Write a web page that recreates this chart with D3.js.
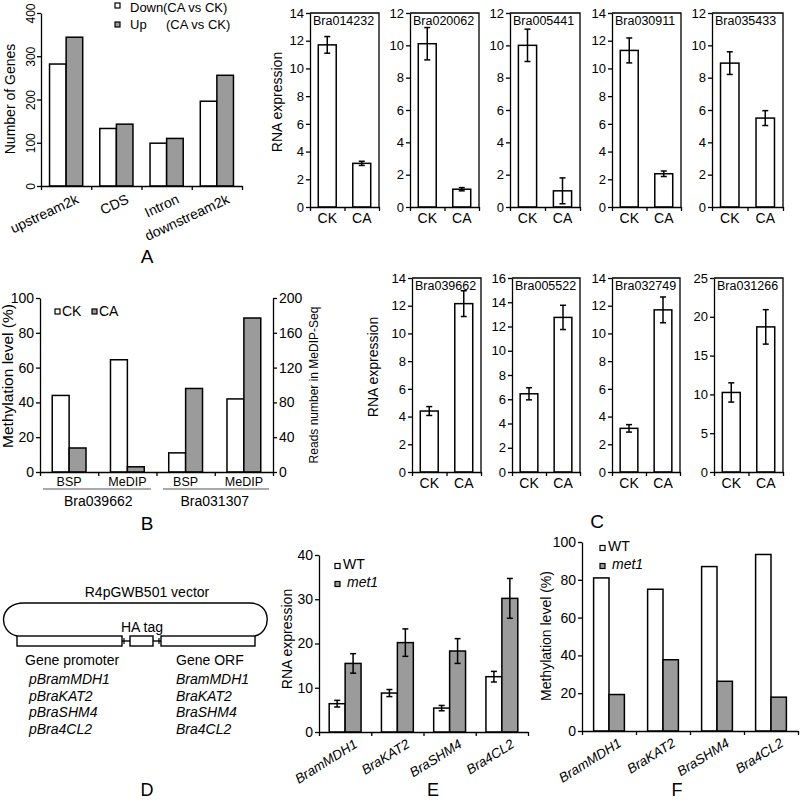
<!DOCTYPE html>
<html><head><meta charset="utf-8">
<script src="https://cdn.jsdelivr.net/npm/d3@7"></script>
<style>
body{margin:0;background:#fff;}
svg{display:block;font-family:"Liberation Sans",Arial,sans-serif;}
</style></head><body>
<svg id="c" width="800" height="802"></svg>
<script>
// ---------- DATA ----------
// Panel A
const regionCats = ["upstream2k", "CDS", "Intron", "downstream2k"];
const downCounts = [282, 133, 99, 196];
const upCounts = [344, 143, 110, 256];
const countTicks = [0, 100, 200, 300, 400];

// Top small multiples (down-regulated)
const downGenes = ["Bra014232", "Bra020062", "Bra005441", "Bra030911", "Bra035433"];
const downCK = [11.7, 10.1, 10.0, 11.3, 8.9];
const downCKErr = [0.6, 1.0, 1.0, 0.9, 0.7];
const downCA = [3.15, 1.1, 1.0, 2.4, 5.5];
const downCAErr = [0.15, 0.1, 0.8, 0.2, 0.46];
const downMax = [14, 12, 12, 14, 12];

// Bottom small multiples (up-regulated)
const upGenes = ["Bra039662", "Bra005522", "Bra032749", "Bra031266"];
const upCK = [4.4, 6.45, 3.15, 10.25];
const upCKErr = [0.32, 0.5, 0.27, 1.24];
const upCA = [12.15, 12.75, 11.7, 18.7];
const upCAErr = [0.93, 1.0, 0.93, 2.22];
const upMax = [14, 16, 14, 25];

const condCats = ["CK", "CA"];

// Panel B
const methCats = ["BSP", "MeDIP", "BSP", "MeDIP"];
const methGenes = ["Bra039662", "Bra031307"];
const methCK = [44, 129, 11, 84];   // BSP: % ; MeDIP: reads
const methCA = [13.8, 6, 48, 177];
const methTicksL = [0, 20, 40, 60, 80, 100];
const methTicksR = [0, 40, 80, 120, 160, 200];

// Panel D
const promoters = ["pBramMDH1", "pBraKAT2", "pBraSHM4", "pBra4CL2"];
const orfs = ["BramMDH1", "BraKAT2", "BraSHM4", "Bra4CL2"];

// Panel E / F
const lineGenes = ["BramMDH1", "BraKAT2", "BraSHM4", "Bra4CL2"];
const wtExpr = [6.4, 8.8, 5.4, 12.5];
const wtExprErr = [0.75, 0.8, 0.6, 1.2];
const metExpr = [15.5, 20.2, 18.3, 30.2];
const metExprErr = [2.2, 3.1, 2.8, 4.5];
const exprTicks = [0, 10, 20, 30, 40];
const wtMeth = [81, 75, 87, 93.4];
const metMeth = [19.3, 37.7, 26.3, 17.9];
const methTicks = [0, 20, 40, 60, 80, 100];

// ---------- DRAW ----------
const GRAY = "#9b9b9b";
const svg = d3.select("#c");

function styleAxis(g, fs) {
  g.attr("font-size", fs).attr("font-family", null);
  g.selectAll("path,line").attr("stroke", "#000").attr("stroke-width", 1.3);
  g.selectAll("text").attr("fill", "#000");
  return g;
}
function label(g, x, y, txt, fs, opts = {}) {
  const t = g.append("text").attr("x", x).attr("y", y).attr("font-size", fs)
    .attr("text-anchor", opts.anchor || "start").text(txt);
  if (opts.rotate) t.attr("transform", `rotate(${opts.rotate},${x},${y})`);
  if (opts.italic) t.attr("font-style", "italic");
  return t;
}
function errBar(g, cx, yTop, yBot, w) {
  g.append("line").attr("x1", cx).attr("x2", cx).attr("y1", yTop).attr("y2", yBot).attr("stroke", "#000").attr("stroke-width", 1.5);
  g.append("line").attr("x1", cx - w).attr("x2", cx + w).attr("y1", yTop).attr("y2", yTop).attr("stroke", "#000").attr("stroke-width", 1.5);
  g.append("line").attr("x1", cx - w).attr("x2", cx + w).attr("y1", yBot).attr("y2", yBot).attr("stroke", "#000").attr("stroke-width", 1.5);
}
function boundaryAxis(g, x0, x1, n, y) {
  return styleAxis(g.append("g").attr("transform", `translate(0,${y})`)
    .call(d3.axisBottom(d3.scaleLinear().domain([0, n]).range([x0, x1])).ticks(n).tickSize(4).tickSizeOuter(0).tickFormat("")), 12);
}

// ===== Panel A =====
{
  const g = svg.append("g");
  const x = d3.scaleBand().domain(regionCats).range([41, 242]).paddingInner(0.34).paddingOuter(0.17);
  const sub = d3.scaleBand().domain(["down", "up"]).range([0, x.bandwidth()]);
  const y = d3.scaleLinear().domain([0, 400]).range([186, 13]);
  g.selectAll("g.grp").data(regionCats).join("g").attr("transform", d => `translate(${x(d)},0)`)
    .selectAll("rect").data((d, i) => [{ k: "down", v: downCounts[i] }, { k: "up", v: upCounts[i] }]).join("rect")
    .attr("x", d => sub(d.k)).attr("y", d => y(d.v)).attr("width", sub.bandwidth()).attr("height", d => y(0) - y(d.v))
    .attr("fill", d => d.k === "down" ? "#fff" : GRAY).attr("stroke", "#000").attr("stroke-width", 1.5);
  const ay = styleAxis(g.append("g").attr("transform", "translate(41,0)")
    .call(d3.axisLeft(y).tickValues(countTicks).tickSize(4).tickSizeOuter(0)), 12);
  ay.selectAll(".tick text").attr("transform", "rotate(-90)").attr("text-anchor", "middle").attr("x", 0).attr("dy", 0).attr("y", -6);
  boundaryAxis(g, 41, 242, 4, 186);
  g.selectAll("text.xl").data(regionCats).join("text").attr("class", "xl")
    .attr("transform", d => `translate(${x(d) + x.bandwidth() / 2 + 9},${193}) rotate(-25)`)
    .attr("text-anchor", "end").attr("dy", "0.75em").attr("font-size", 14).text(d => d);
  label(g, 15, 99, "Number of Genes", 14, { anchor: "middle", rotate: -90 });
  // legend
  const leg = [["Down", 3, 12, 163], ["Up", 22, 29, 166]];
  leg.forEach((l, i) => {
    g.append("rect").attr("x", 115).attr("y", l[1]).attr("width", 5).attr("height", 5)
      .attr("fill", i ? GRAY : "#fff").attr("stroke", "#000").attr("stroke-width", 1.2);
    label(g, 130, l[2], l[0], 13);
    label(g, l[3], l[2], "(CA vs CK)", 13);
  });
  label(g, 147, 263, "A", 19, { anchor: "middle" });
}

// ===== Small multiples =====
function smallPanel(x0, x1, yTop, y0, max, gene, ck, ckE, ca, caE) {
  const g = svg.append("g");
  const step = max > 20 ? 5 : 2;
  const x = d3.scaleBand().domain(condCats).range([x0, x1]).paddingInner(0.48).paddingOuter(0.24);
  const y = d3.scaleLinear().domain([0, max]).range([y0, yTop]);
  const vals = [{ k: "CK", v: ck, e: ckE }, { k: "CA", v: ca, e: caE }];
  g.selectAll("rect.bar").data(vals).join("rect").attr("class", "bar")
    .attr("x", d => x(d.k)).attr("y", d => y(d.v)).attr("width", x.bandwidth()).attr("height", d => y(0) - y(d.v))
    .attr("fill", "#fff").attr("stroke", "#000").attr("stroke-width", 1.5);
  vals.forEach(d => errBar(g, x(d.k) + x.bandwidth() / 2, y(d.v + d.e), y(d.v - d.e), 3));
  g.append("path").attr("d", `M${x0},${yTop}H${x1}V${y0}`).attr("fill", "none").attr("stroke", "#000").attr("stroke-width", 1.3);
  styleAxis(g.append("g").attr("transform", `translate(${x0},0)`)
    .call(d3.axisLeft(y).tickValues(d3.range(0, max + 0.01, step)).tickSize(4).tickSizeOuter(0).tickPadding(2)), 13);
  boundaryAxis(g, x0, x1, 2, y0);
  condCats.forEach(c => label(g, x(c) + x.bandwidth() / 2, y0 + 16, c, 14, { anchor: "middle" }));
  label(g, x0 + 3, yTop + 12, gene, 12.5);
}
const topX0 = [310, 410, 510, 612, 712];
const topX1 = [379, 479, 580, 681, 783];
downGenes.forEach((gname, i) => smallPanel(topX0[i], topX1[i], 13, 207, downMax[i], gname, downCK[i], downCKErr[i], downCA[i], downCAErr[i]));
const botX0 = [412, 512, 612, 714];
const botX1 = [481, 580, 680, 783];
upGenes.forEach((gname, i) => smallPanel(botX0[i], botX1[i], 278, 472, upMax[i], gname, upCK[i], upCKErr[i], upCA[i], upCAErr[i]));
label(svg, 282, 102, "RNA expression", 14, { anchor: "middle", rotate: -90 });
label(svg, 378, 367, "RNA expression", 14, { anchor: "middle", rotate: -90 });
label(svg, 597, 528, "C", 19, { anchor: "middle" });

// ===== Panel B =====
{
  const g = svg.append("g");
  const idx = d3.range(methCats.length);
  const x = d3.scaleBand().domain(idx).range([40, 273]).paddingInner(0.42).paddingOuter(0.21);
  const sub = d3.scaleBand().domain(["CK", "CA"]).range([0, x.bandwidth()]);
  const yL = d3.scaleLinear().domain([0, 100]).range([472, 298]);
  const yR = d3.scaleLinear().domain([0, 200]).range([472, 298]);
  const ys = i => methCats[i] === "BSP" ? yL : yR;
  g.selectAll("g.grp").data(idx).join("g").attr("transform", d => `translate(${x(d)},0)`)
    .selectAll("rect").data(i => [{ k: "CK", v: methCK[i], i }, { k: "CA", v: methCA[i], i }]).join("rect")
    .attr("x", d => sub(d.k)).attr("y", d => ys(d.i)(d.v)).attr("width", sub.bandwidth()).attr("height", d => ys(d.i)(0) - ys(d.i)(d.v))
    .attr("fill", d => d.k === "CK" ? "#fff" : GRAY).attr("stroke", "#000").attr("stroke-width", 1.5);
  styleAxis(g.append("g").attr("transform", "translate(40,0)").call(d3.axisLeft(yL).tickValues(methTicksL).tickSize(4).tickSizeOuter(0).tickPadding(2)), 14);
  styleAxis(g.append("g").attr("transform", "translate(273,0)").call(d3.axisRight(yR).tickValues(methTicksR).tickSize(4).tickSizeOuter(0).tickPadding(2)), 14);
  boundaryAxis(g, 40, 273, 4, 472);
  idx.forEach(i => label(g, x(i) + x.bandwidth() / 2, 486, methCats[i], 12.5, { anchor: "middle" }));
  [[43, 151], [163, 269]].forEach(r => g.append("line").attr("x1", r[0]).attr("x2", r[1]).attr("y1", 489).attr("y2", 489).attr("stroke", "#555").attr("stroke-width", 1.2));
  methGenes.forEach((gn, j) => label(g, (x(2 * j) + x(2 * j + 1) + x.bandwidth()) / 2, 506, gn, 14, { anchor: "middle" }));
  label(g, 13, 376, "Methylation level (%)", 15.5, { anchor: "middle", rotate: -90 });
  label(g, 318, 385, "Reads number in MeDIP-Seq", 12, { anchor: "middle", rotate: -90 });
  [["CK", 55, "#fff"], ["CA", 92, GRAY]].forEach(l => {
    g.append("rect").attr("x", l[1]).attr("y", 309).attr("width", 5).attr("height", 5).attr("fill", l[2]).attr("stroke", "#000").attr("stroke-width", 1.2);
    label(g, l[1] + 7, 316, l[0], 14);
  });
  label(g, 147, 530, "B", 19, { anchor: "middle" });
}

// ===== Panel D =====
{
  const g = svg.append("g");
  const p = d3.path();
  p.moveTo(17, 636);
  p.bezierCurveTo(-2, 632, -2, 603, 24, 603);
  p.lineTo(250, 603);
  p.bezierCurveTo(272, 603, 272, 632, 255, 636);
  g.append("path").attr("d", p.toString()).attr("fill", "none").attr("stroke", "#000").attr("stroke-width", 1.4);
  [[17, 122], [130, 153], [161, 255]].forEach(b => g.append("rect").attr("x", b[0]).attr("y", 636).attr("width", b[1] - b[0]).attr("height", 10)
    .attr("fill", "#fff").attr("stroke", "#000").attr("stroke-width", 1.4));
  [[122, 130], [153, 161]].forEach(s => g.append("line").attr("x1", s[0]).attr("x2", s[1]).attr("y1", 641).attr("y2", 641).attr("stroke", "#000").attr("stroke-width", 1.4));
  [124, 159].forEach(xx => g.append("line").attr("x1", xx).attr("x2", xx).attr("y1", 638).attr("y2", 644).attr("stroke", "#000").attr("stroke-width", 1.2));
  label(g, 147, 597, "R4pGWB501 vector", 14, { anchor: "middle" });
  label(g, 142, 632, "HA tag", 14, { anchor: "middle" });
  label(g, 25, 665, "Gene promoter", 14);
  label(g, 176, 665, "Gene ORF", 14);
  promoters.forEach((t, i) => label(g, 29, 684 + i * 16.5, t, 14, { italic: true }));
  orfs.forEach((t, i) => label(g, 176, 684 + i * 16.5, t, 14, { italic: true }));
  label(g, 147, 796, "D", 18, { anchor: "middle" });
}

// ===== Panel E & F =====
function groupedPanel(opts) {
  const g = svg.append("g");
  const x = d3.scaleBand().domain(lineGenes).range([opts.x0, opts.x1]).paddingInner(opts.pad).paddingOuter(opts.pad / 2);
  const sub = d3.scaleBand().domain(["WT", "met1"]).range([0, x.bandwidth()]);
  const y = d3.scaleLinear().domain([0, opts.max]).range([opts.y0, opts.yTop]);
  const grp = g.selectAll("g.grp").data(lineGenes).join("g").attr("transform", d => `translate(${x(d)},0)`);
  const data = (d, i) => [{ k: "WT", v: opts.wt[i], e: opts.wtE ? opts.wtE[i] : 0 }, { k: "met1", v: opts.met[i], e: opts.metE ? opts.metE[i] : 0 }];
  grp.selectAll("rect").data(data).join("rect")
    .attr("x", d => sub(d.k)).attr("y", d => y(d.v)).attr("width", sub.bandwidth()).attr("height", d => y(0) - y(d.v))
    .attr("fill", d => d.k === "WT" ? "#fff" : GRAY).attr("stroke", "#000").attr("stroke-width", 1.5);
  if (opts.wtE) {
    lineGenes.forEach((gn, i) => data(gn, i).forEach(d => errBar(g, x(gn) + sub(d.k) + sub.bandwidth() / 2, y(d.v + d.e), y(d.v - d.e), 3)));
  }
  styleAxis(g.append("g").attr("transform", `translate(${opts.x0},0)`).call(d3.axisLeft(y).tickValues(opts.ticks).tickSize(4).tickSizeOuter(0).tickPadding(2)), 14);
  boundaryAxis(g, opts.x0, opts.x1, 4, opts.y0);
  g.selectAll("text.xl").data(lineGenes).join("text").attr("class", "xl")
    .attr("transform", d => `translate(${x(d) + x.bandwidth() / 2 + 8},${opts.y0 + 6}) rotate(-32)`)
    .attr("text-anchor", "end").attr("dy", "0.75em").attr("font-size", 13.5).attr("font-style", "italic").text(d => d);
  label(g, opts.ylx, opts.yly, opts.ylabel, 14, { anchor: "middle", rotate: -90 });
  [["WT", opts.lx, opts.ly1, "#fff", false, 8], ["met1", opts.lx, opts.ly2, GRAY, true, 12]].forEach(l => {
    g.append("rect").attr("x", l[1]).attr("y", l[2] - 5.5).attr("width", 5).attr("height", 5).attr("fill", l[3]).attr("stroke", "#000").attr("stroke-width", 1.2);
    label(g, l[1] + l[5], l[2], l[0], 14, { italic: l[4] });
  });
  label(g, opts.lblx, 796, opts.lbl, 18, { anchor: "middle" });
}
groupedPanel({ x0: 319, x1: 528, y0: 732, yTop: 555, max: 40, pad: 0.39, wt: wtExpr, wtE: wtExprErr, met: metExpr, metE: metExprErr,
  ticks: exprTicks, ylabel: "RNA expression", ylx: 292, yly: 639, lx: 335, ly1: 569, ly2: 587, lbl: "E", lblx: 433 });
groupedPanel({ x0: 582, x1: 798, y0: 731, yTop: 542, max: 100, pad: 0.43, wt: wtMeth, met: metMeth,
  ticks: methTicks, ylabel: "Methylation level (%)", ylx: 551, yly: 636, lx: 600, ly1: 551, ly2: 569, lbl: "F", lblx: 677 });
</script>
</body></html>
